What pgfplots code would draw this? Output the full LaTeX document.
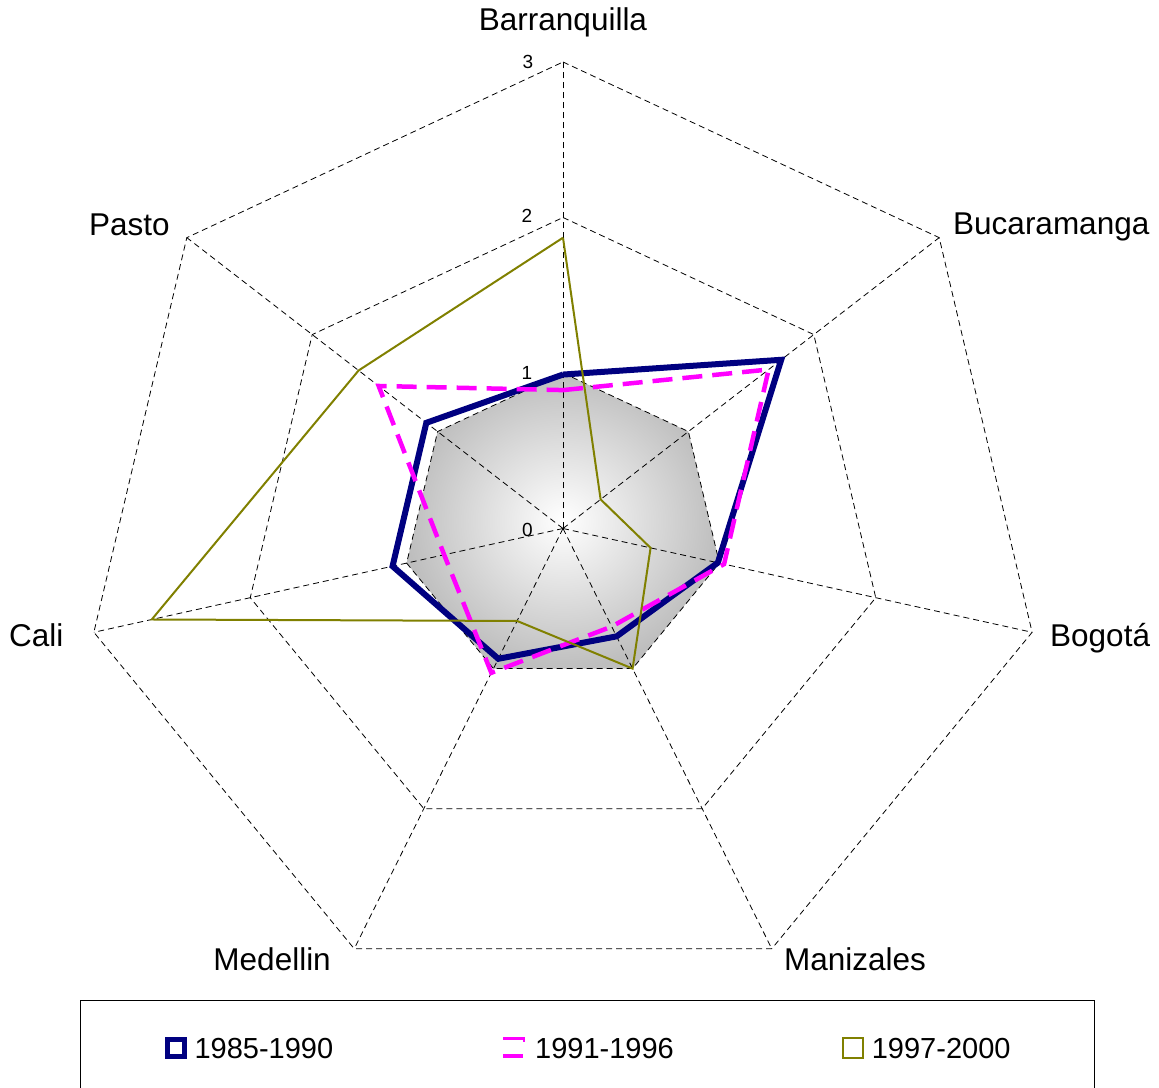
\documentclass[border=0pt]{standalone}
\usepackage{pgfplots}
\pgfplotsset{compat=1.18}
\usepackage{fontspec}
\setmainfont{Liberation Sans}
\definecolor{navyc}{RGB}{0,0,128}
\definecolor{magc}{RGB}{255,0,255}
\definecolor{olivec}{RGB}{128,128,0}
\definecolor{silverc}{RGB}{190,190,190}
% angle (deg), value; order: Barranquilla, Bucaramanga, Bogota, Manizales, Medellin, Cali, Pasto
\pgfplotstableread{
a r
90 0.99
38.5714 1.74
-12.8571 0.99
-64.2857 0.77
-115.7143 0.93
-167.1429 1.09
-218.5714 1.09
-270 0.99
}\tblA
\pgfplotstableread{
a r
90 0.89
38.5714 1.64
-12.8571 1.03
-64.2857 0.70
-115.7143 1.03
-167.1429 0.76
-218.5714 1.47
-270 0.89
}\tblB
\pgfplotstableread{
a r
90 1.87
38.5714 0.30
-12.8571 0.56
-64.2857 1.00
-115.7143 0.66
-167.1429 2.63
-218.5714 1.63
-270 1.87
}\tblC
\pgfplotstableread{
a r
90 1
38.5714 1
-12.8571 1
-64.2857 1
-115.7143 1
-167.1429 1
-218.5714 1
-270 1
}\tblRef
\begin{document}
\begin{tikzpicture}
\begin{axis}[
  width=1159pt, height=1087pt, scale only axis,
  xmin=-3.51, xmax=3.7157, ymin=-3.5916, ymax=3.3987,
  hide axis, clip=false,
  legend columns=3,
  legend style={
    at={(rel axis cs:0.069025,0.080037)}, anchor=north west,
    draw=black, line width=1pt,
    inner xsep=84pt, inner ysep=35.5pt,
    nodes={inner sep=0pt, text height=21pt, text depth=0pt, font=\fontsize{29}{30}\selectfont},
    /tikz/every odd column/.append style={column sep=8pt},
    /tikz/every even column/.append style={column sep=168pt},
  },
]
% reference area
\addplot[forget plot, data cs=polar, draw=none, shading=radial, inner color=white, outer color=silverc] table[x=a,y=r] {\tblRef};
% grid
\foreach \rr in {1,2,3}{
\addplot[forget plot, data cs=polar, black, line width=0.8pt, dash pattern=on 6pt off 4pt] coordinates {(90,\rr) (38.5714,\rr) (-12.8571,\rr) (-64.2857,\rr) (-115.7143,\rr) (-167.1429,\rr) (-218.5714,\rr) (-270,\rr)};
}
\foreach \aa in {90,38.5714,-12.8571,-64.2857,-115.7143,-167.1429,-218.5714}{
\addplot[forget plot, data cs=polar, black, line width=0.8pt, dash pattern=on 6pt off 4pt] coordinates {(\aa,0) (\aa,3)};
}
% series
\addplot[data cs=polar, navyc, line width=6pt, line join=miter,
  legend image code/.code={\draw[navyc, line width=5pt] (2.5pt,-8.5pt) rectangle (19.5pt,8.5pt);}]
  table[x=a,y=r] {\tblA};
\addlegendentry{1985-1990}
\addplot[data cs=polar, magc, line width=4.5pt, line join=miter, dash pattern=on 20pt off 10pt,
  legend image code/.code={\draw[magc, line width=2.5pt] (0pt,9.5pt) -- (22pt,9.5pt); \draw[magc, line width=2.5pt] (20.75pt,10.75pt) -- (20.75pt,6pt); \draw[magc, line width=4pt] (0pt,-8pt) -- (22pt,-8pt);}]
  table[x=a,y=r] {\tblB};
\addlegendentry{1991-1996}
\addplot[data cs=polar, olivec, line width=2pt, line join=miter,
  legend image code/.code={\draw[olivec, line width=2pt] (1pt,-10pt) rectangle (21pt,10pt);}]
  table[x=a,y=r] {\tblC};
\addlegendentry{1997-2000}
% category labels
\begin{scope}[every node/.style={font=\fontsize{31.5}{32}\selectfont, inner sep=0pt}]
\node[anchor=base] at (rel axis cs:0.48576,0.97148) {Barranquilla};
\node[anchor=base west] at (rel axis cs:0.82226,0.78381) {Bucaramanga};
\node[anchor=base west] at (rel axis cs:0.90595,0.40478) {Bogotá};
\node[anchor=base west] at (rel axis cs:0.67645,0.10672) {Manizales};
\node[anchor=base east] at (rel axis cs:0.28559,0.10672) {Medellin};
\node[anchor=base west] at (rel axis cs:0.00777,0.40478) {Cali};
\node[anchor=base west] at (rel axis cs:0.07679,0.78289) {Pasto};
\end{scope}
% radial tick labels
\begin{scope}[every node/.style={font=\fontsize{19}{20}\selectfont, inner sep=0pt, anchor=center}]
\node at (rel axis cs:0.45557,0.94296) {3};
\node at (rel axis cs:0.45470,0.80129) {2};
\node at (rel axis cs:0.45470,0.65685) {1};
\node at (rel axis cs:0.45513,0.51242) {0};
\end{scope}
\end{axis}
\pgfresetboundingbox
\path (current axis.south west) rectangle (current axis.north east);
\end{tikzpicture}
\end{document}
